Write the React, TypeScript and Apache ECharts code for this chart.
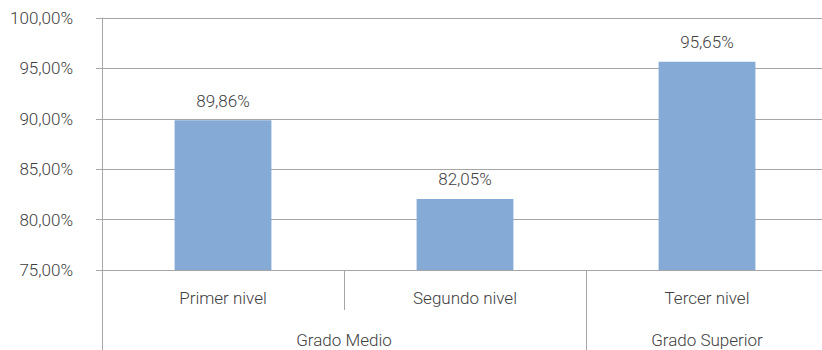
import React, { useEffect, useRef } from "react";
import * as echarts from "echarts";

const categories = ["Primer nivel", "Segundo nivel", "Tercer nivel"];
const values = [89.86, 82.05, 95.65];
// group labels placed on a half-category axis (7 positions at boundaries/centres)
const groupAxis = ["", "", "Grado Medio", "", "", "Grado Superior", ""];
const groupBoundaryIdx = [0, 4];

const fmt = (v: number) => v.toFixed(2).replace(".", ",") + "%";

export default function App() {
  const ref = useRef<HTMLDivElement>(null);
  useEffect(() => {
    if (!ref.current) return;
    const chart = echarts.init(ref.current, undefined, { renderer: "svg" });
    const font = "Roboto";
    const fw = 300;
    const fs = 17;
    const textColor = "#404040";
    const lineColor = "#a6a6a6";
    chart.setOption({
      animation: false,
      textStyle: { fontFamily: font },
      grid: { left: 102, right: 0, top: 18, bottom: 80, containLabel: false },
      xAxis: [
        {
          type: "category",
          data: categories,
          position: "bottom",
          axisLine: { show: true, lineStyle: { color: lineColor, width: 1 } },
          axisTick: { show: true, length: 40, interval: 0, lineStyle: { color: lineColor } },
          axisLabel: { margin: 19, color: textColor, fontSize: fs, fontWeight: fw, fontFamily: font },
          splitLine: { show: false },
        },
        {
          type: "category",
          data: groupAxis,
          boundaryGap: false,
          position: "bottom",
          axisLine: { show: false },
          axisTick: {
            show: true,
            length: 80,
            interval: (i: number) => groupBoundaryIdx.includes(i),
            lineStyle: { color: lineColor },
          },
          axisLabel: {
            margin: 61,
            interval: 0,
            color: textColor,
            fontSize: fs,
            fontWeight: fw,
            fontFamily: font,
          },
          splitLine: { show: false },
        },
      ],
      yAxis: {
        type: "value",
        min: 75,
        max: 100,
        interval: 5,
        axisLine: { show: true, lineStyle: { color: lineColor } },
        axisTick: { show: true, length: 6, lineStyle: { color: lineColor } },
        axisLabel: {
          margin: 29,
          color: textColor,
          fontSize: fs,
          fontWeight: fw,
          fontFamily: font,
          formatter: (v: number) => fmt(v),
        },
        splitLine: { show: true, lineStyle: { color: lineColor, width: 1 } },
      },
      series: [
        {
          type: "bar",
          xAxisIndex: 0,
          data: values,
          barWidth: "40%",
          itemStyle: { color: "#85aad5" },
          label: {
            show: true,
            position: "top",
            distance: 11,
            color: textColor,
            fontSize: fs,
            fontWeight: fw,
            fontFamily: font,
            formatter: (p: any) => fmt(p.value),
          },
        },
      ],
    });
    return () => chart.dispose();
  }, []);
  return (
    <div style={{ width: 822, height: 350, position: "absolute", left: 0, top: 0, overflow: "hidden" }}>
      <div ref={ref} style={{ width: 831, height: 350 }} />
    </div>
  );
}
